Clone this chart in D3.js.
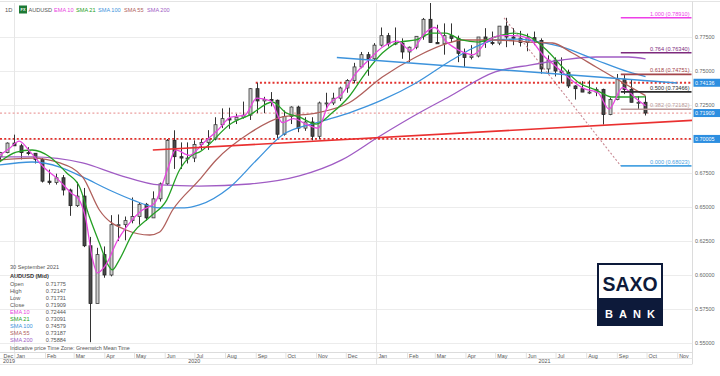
<!DOCTYPE html>
<html><head><meta charset="utf-8">
<script src="https://cdn.jsdelivr.net/npm/d3@7"></script>
<style>
body{margin:0;background:#fff}
svg{display:block;font-family:"Liberation Sans",Arial,sans-serif}
</style>
</head><body>
<svg id="c" width="720" height="376"></svg>
<script>
// ---------- DATA ----------
const weekStart = ["2019-12-16","2019-12-23","2019-12-30",
"2020-01-06","2020-01-13","2020-01-20","2020-01-27","2020-02-03","2020-02-10","2020-02-17","2020-02-24",
"2020-03-02","2020-03-09","2020-03-16","2020-03-23","2020-03-30","2020-04-06","2020-04-13","2020-04-20","2020-04-27",
"2020-05-04","2020-05-11","2020-05-18","2020-05-25","2020-06-01","2020-06-08","2020-06-15","2020-06-22","2020-06-29",
"2020-07-06","2020-07-13","2020-07-20","2020-07-27","2020-08-03","2020-08-10","2020-08-17","2020-08-24","2020-08-31",
"2020-09-07","2020-09-14","2020-09-21","2020-09-28","2020-10-05","2020-10-12","2020-10-19","2020-10-26",
"2020-11-02","2020-11-09","2020-11-16","2020-11-23","2020-11-30","2020-12-07","2020-12-14","2020-12-21","2020-12-28",
"2021-01-04","2021-01-11","2021-01-18","2021-01-25","2021-02-01","2021-02-08","2021-02-15","2021-02-22",
"2021-03-01","2021-03-08","2021-03-15","2021-03-22","2021-03-29","2021-04-05","2021-04-12","2021-04-19","2021-04-26",
"2021-05-03","2021-05-10","2021-05-17","2021-05-24","2021-05-31","2021-06-07","2021-06-14","2021-06-21","2021-06-28",
"2021-07-05","2021-07-12","2021-07-19","2021-07-26","2021-08-02","2021-08-09","2021-08-16","2021-08-23","2021-08-30",
"2021-09-06","2021-09-13","2021-09-20","2021-09-27"];
const openP  = [.6870,.6900,.6970,.6950,.6900,.6895,.6850,.6690,.6680,.6715,.6625,.6510,.6580,.6215,.5790,.6150,.6000,.6370,.6370,.6400,
.6430,.6520,.6420,.6560,.6670,.6990,.6870,.6860,.6860,.6960,.6975,.7000,.7105,.7150,.7140,.7160,.7175,.7370,.7280,.7290,.7285,.7035,
.7165,.7235,.7080,.7125,.7020,.7265,.7265,.7300,.7375,.7430,.7530,.7620,.7590,.7690,.7760,.7700,.7705,.7640,.7675,.7755,.7880,
.7710,.7700,.7760,.7740,.7630,.7600,.7610,.7750,.7710,.7705,.7830,.7750,.7740,.7710,.7745,.7725,.7515,.7580,.7500,.7490,.7390,
.7370,.7345,.7345,.7365,.7180,.7290,.7440,.7365,.7270,.7270];
const highP  = [.6905,.6975,.7032,.6965,.6940,.6895,.6860,.6775,.6745,.6735,.6635,.6685,.6640,.6280,.6200,.6210,.6440,.6445,.6430,.6570,
.6530,.6530,.6615,.6680,.7000,.7064,.6975,.6975,.6990,.7000,.7065,.7160,.7225,.7230,.7185,.7275,.7375,.7413,.7310,.7345,.7290,.7210,
.7240,.7245,.7160,.7160,.7275,.7340,.7340,.7385,.7440,.7560,.7640,.7640,.7705,.7820,.7780,.7820,.7740,.7680,.7755,.7890,.8007,
.7840,.7850,.7850,.7760,.7665,.7690,.7750,.7815,.7790,.7830,.7891,.7815,.7795,.7775,.7790,.7740,.7615,.7600,.7600,.7510,.7395,
.7425,.7430,.7380,.7370,.7305,.7478,.7470,.7440,.7315,.7315];
const lowP   = [.6838,.6895,.6960,.6850,.6880,.6820,.6680,.6665,.6665,.6585,.6435,.6500,.6205,.5506,.5795,.5980,.5990,.6250,.6255,.6380,
.6370,.6400,.6420,.6540,.6660,.6780,.6780,.6820,.6830,.6920,.6920,.6990,.7080,.7075,.7110,.7150,.7140,.7190,.7190,.7240,.7005,.7025,
.7110,.7050,.7060,.6990,.7000,.7220,.7250,.7280,.7340,.7410,.7520,.7465,.7580,.7680,.7680,.7690,.7590,.7565,.7660,.7730,.7710,
.7700,.7620,.7710,.7565,.7530,.7585,.7600,.7670,.7690,.7690,.7675,.7690,.7680,.7645,.7690,.7480,.7475,.7460,.7410,.7375,.7290,
.7345,.7330,.7315,.7106,.7175,.7285,.7330,.7270,.7220,.7173];
const closeP = [.6900,.6970,.6950,.6900,.6895,.6850,.6690,.6680,.6715,.6625,.6510,.6580,.6215,.5790,.6150,.6000,.6370,.6370,.6400,.6430,
.6520,.6420,.6560,.6670,.6990,.6870,.6860,.6860,.6960,.6975,.7000,.7105,.7150,.7140,.7160,.7175,.7370,.7280,.7290,.7285,.7035,.7165,
.7235,.7080,.7125,.7020,.7265,.7265,.7300,.7375,.7430,.7530,.7620,.7590,.7690,.7760,.7700,.7705,.7640,.7675,.7755,.7880,.7710,
.7700,.7760,.7740,.7630,.7600,.7610,.7750,.7710,.7705,.7830,.7750,.7740,.7710,.7745,.7725,.7515,.7580,.7500,.7490,.7390,.7370,
.7345,.7345,.7365,.7180,.7290,.7440,.7365,.7270,.7270,.7191];

const ema10 = [["2019-12-17",.6880],["2019-12-27",.6930],["2020-01-06",.6985],["2020-01-17",.6905],["2020-01-31",.6790],
["2020-02-14",.6705],["2020-02-28",.6600],["2020-03-06",.6560],["2020-03-13",.6420],["2020-03-20",.6120],["2020-03-25",.6015],
["2020-04-03",.6080],["2020-04-14",.6250],["2020-04-24",.6360],["2020-05-08",.6470],["2020-05-22",.6530],["2020-06-05",.6800],
["2020-06-12",.6920],["2020-06-26",.6880],["2020-07-10",.6970],["2020-07-24",.7060],["2020-08-07",.7160],["2020-08-21",.7175],
["2020-09-02",.7300],["2020-09-16",.7280],["2020-09-28",.7120],["2020-10-09",.7150],["2020-10-23",.7105],["2020-11-03",.7080],
["2020-11-13",.7245],["2020-11-27",.7330],["2020-12-11",.7480],["2020-12-24",.7580],["2021-01-08",.7680],["2021-01-22",.7720],
["2021-02-05",.7650],["2021-02-19",.7780],["2021-03-01",.7820],["2021-03-12",.7720],["2021-03-26",.7650],["2021-04-09",.7620],
["2021-04-23",.7720],["2021-05-07",.7760],["2021-05-21",.7760],["2021-06-04",.7740],["2021-06-18",.7620],["2021-07-02",.7530],
["2021-07-16",.7440],["2021-07-30",.7370],["2021-08-13",.7340],["2021-08-24",.7220],["2021-09-07",.7380],["2021-09-20",.7300],
["2021-09-30",.72444]];
const sma21 = [["2019-12-17",.6831],["2020-01-03",.6904],["2020-01-19",.6919],["2020-02-06",.6868],["2020-02-23",.6750],
["2020-03-07",.6647],["2020-03-17",.6426],["2020-03-27",.6235],["2020-04-06",.6059],["2020-04-09",.6037],["2020-04-16",.6110],
["2020-04-30",.6309],["2020-05-17",.6426],["2020-06-03",.6551],["2020-06-16",.6772],["2020-06-29",.6882],["2020-07-06",.6904],
["2020-08-08",.7118],["2020-08-26",.7177],["2020-09-18",.7272],["2020-10-02",.7191],["2020-10-15",.7162],["2020-11-01",.7110],
["2020-11-17",.7191],["2020-12-04",.7309],["2020-12-21",.7485],["2021-01-07",.7632],["2021-01-24",.7713],["2021-02-10",.7728],
["2021-02-26",.7779],["2021-03-12",.7779],["2021-03-28",.7728],["2021-04-14",.7713],["2021-05-01",.7750],["2021-05-19",.7779],
["2021-06-05",.7750],["2021-06-22",.7654],["2021-07-08",.7529],["2021-07-25",.7412],["2021-08-11",.7360],["2021-08-27",.7309],
["2021-09-13",.7309],["2021-09-30",.73091]];
const sma55 = [["2019-12-17",.6846],["2020-01-19",.6860],["2020-02-16",.6824],["2020-03-10",.6721],["2020-03-27",.6478],
["2020-04-23",.6331],["2020-05-17",.6294],["2020-05-27",.6316],["2020-06-09",.6478],["2020-07-06",.6699],["2020-07-23",.6846],
["2020-08-26",.7044],["2020-09-28",.7162],["2020-11-01",.7191],["2020-12-04",.7265],["2021-01-07",.7456],["2021-02-10",.7603],
["2021-03-15",.7706],["2021-03-28",.7728],["2021-05-01",.7728],["2021-06-05",.7713],["2021-06-28",.7706],["2021-07-18",.7632],
["2021-08-11",.7529],["2021-09-06",.7419],["2021-09-30",.73187]];
const sma100 = [["2019-12-17",.6809],["2020-01-19",.6831],["2020-02-16",.6794],["2020-03-10",.6721],["2020-04-06",.6625],
["2020-04-30",.6551],["2020-05-27",.6493],["2020-06-21",.6493],["2020-07-06",.6515],["2020-08-05",.6640],["2020-09-02",.6846],
["2020-09-28",.7029],["2020-11-01",.7118],["2020-12-04",.7191],["2021-01-07",.7287],["2021-02-10",.7412],["2021-03-15",.7566],
["2021-04-09",.7669],["2021-05-01",.7728],["2021-05-26",.7735],["2021-06-15",.7713],["2021-07-08",.7676],["2021-08-11",.7581],
["2021-09-13",.7493],["2021-09-30",.74579]];
const sma200 = [["2019-12-17",.6868],["2020-01-19",.6868],["2020-03-10",.6824],["2020-04-16",.6735],["2020-05-27",.6662],
["2020-07-06",.6654],["2020-08-26",.6669],["2020-10-15",.6728],["2020-11-27",.6846],["2021-01-03",.7015],["2021-02-13",.7191],
["2021-03-15",.7309],["2021-05-01",.7493],["2021-06-05",.7544],["2021-07-08",.7581],["2021-08-11",.7603],["2021-09-13",.7603],
["2021-09-30",.75884]];

const fibLevels = [1.000, 0.764, 0.618, 0.500, 0.382, 0.000];
const fibPrices = [0.78910, 0.76340, 0.74751, 0.73466, 0.72182, 0.68023];
const fibStart = "2021-09-05", fibHigh = ["2021-05-10", 0.78910];

const redTrend  = [["2020-05-20", 0.6919], ["2021-11-16", 0.7137]];
const blueTrend = [["2020-11-22", 0.7599], ["2021-11-01", 0.7412]];
const levelDotted = [{v:0.74136, from:"2020-09-01", strong:true}, {v:0.71909, from:"2019-12-01", strong:false}, {v:0.70005, from:"2019-12-01", strong:true}];

const yTicks = [0.55,0.575,0.6,0.625,0.65,0.675,0.7,0.725,0.75,0.775];
const monthTicks = ["2019-12-01","2020-01-01","2020-02-01","2020-03-01","2020-04-01","2020-05-01","2020-06-01","2020-07-01",
"2020-08-01","2020-09-01","2020-10-01","2020-11-01","2020-12-01","2021-01-01","2021-02-01","2021-03-01","2021-04-01","2021-05-01",
"2021-06-01","2021-07-01","2021-08-01","2021-09-01","2021-10-01","2021-11-01"];
const yearLabels = [["2019","2019-12-01"],["2020","2020-07-01"],["2021","2021-06-20"]];

const legendNames = ["EMA 10","SMA 21","SMA 100","SMA 55","SMA 200"];
const infoLabels = ["Open","High","Low","Close","EMA 10","SMA 21","SMA 100","SMA 55","SMA 200"];
const infoValues = ["0.71775","0.72147","0.71731","0.71909","0.72444","0.73091","0.74579","0.73187","0.75884"];

// ---------- STYLE ----------
const maColors = {"EMA 10":"#e845e0","SMA 21":"#25a025","SMA 100":"#3d93dc","SMA 55":"#b0605c","SMA 200":"#a05cc4"};
const fibColors = ["#ee3fe8","#7d2a7d","#a4454a","#2a2a2a","#bc9a9a","#4aa3e2"];

const P = d3.utcParse("%Y-%m-%d");
const svg = d3.select("#c");
const W = 720, plotR = 692.5, plotT = 3, plotB = 352;

const x = d3.scaleUtc().domain([P("2020-01-01"), P("2021-01-01")]).range([14.3, 14.3 + 366*0.9894]);
const y = d3.scaleLinear().domain([0.55, 0.775]).range([343, 37]);

svg.append("defs").append("clipPath").attr("id","plot")
  .append("rect").attr("x",0).attr("y",plotT).attr("width",plotR).attr("height",plotB-plotT);

// frame lines
svg.append("line").attr("x1",0).attr("x2",W).attr("y1",1.5).attr("y2",1.5).attr("stroke","#e4e4e4");
svg.append("line").attr("x1",plotR).attr("x2",plotR).attr("y1",1.5).attr("y2",364).attr("stroke","#dcdcdc");

const plot = svg.append("g").attr("clip-path","url(#plot)");

// horizontal gridlines
plot.append("g").selectAll("line").data(yTicks).join("line")
  .attr("x1",0).attr("x2",plotR).attr("y1",d=>Math.round(y(d))+0.5).attr("y2",d=>Math.round(y(d))+0.5)
  .attr("stroke","#ececec");
// year gridlines
plot.append("g").selectAll("line").data(["2020-01-01","2021-01-01"]).join("line")
  .attr("x1",d=>Math.round(x(P(d)))+0.5).attr("x2",d=>Math.round(x(P(d)))+0.5).attr("y1",0).attr("y2",plotB)
  .attr("stroke","#e6e6e6");

// dotted horizontal levels
plot.append("g").selectAll("line").data(levelDotted).join("line")
  .attr("x1",d=>Math.max(0,x(P(d.from)))).attr("x2",plotR)
  .attr("y1",d=>y(d.v)).attr("y2",d=>y(d.v))
  .attr("stroke",d=>d.strong?"#e2322e":"#eba0a0")
  .attr("stroke-width",d=>d.strong?1.8:1.3)
  .attr("stroke-dasharray","2,2.2");

// candles
const candles = weekStart.map((d,i)=>({t:d3.utcDay.offset(P(d),2), o:openP[i], h:highP[i], l:lowP[i], c:closeP[i]}));
const cg = plot.append("g");
cg.selectAll("line").data(candles).join("line")
  .attr("x1",d=>Math.round(x(d.t))+0.5).attr("x2",d=>Math.round(x(d.t))+0.5)
  .attr("y1",d=>y(d.h)).attr("y2",d=>y(d.l)).attr("stroke","#333").attr("stroke-width",1);
cg.selectAll("rect").data(candles).join("rect")
  .attr("x",d=>Math.round(x(d.t))-1).attr("width",3)
  .attr("y",d=>y(Math.max(d.o,d.c))).attr("height",d=>Math.max(1,Math.abs(y(d.o)-y(d.c))))
  .attr("fill",d=>d.c>=d.o?"#cfcfcf":"#4a4a4a").attr("stroke",d=>d.c>=d.o?"#3a3a3a":"#222").attr("stroke-width",0.8);

// moving averages
const line = d3.line().x(d=>x(P(d[0]))).y(d=>y(d[1])).curve(d3.curveMonotoneX);
const maData = {"SMA 200":sma200,"SMA 100":sma100,"SMA 55":sma55,"SMA 21":sma21,"EMA 10":ema10};
Object.entries(maData).forEach(([k,v])=>{
  plot.append("path").datum(v).attr("d",line).attr("fill","none")
    .attr("stroke",maColors[k]).attr("stroke-width",1.3);
});

// trend lines
const tl = d3.line().x(d=>x(P(d[0]))).y(d=>y(d[1]));
plot.append("path").datum(blueTrend).attr("d",tl).attr("stroke","#3d93dc").attr("stroke-width",1.5).attr("fill","none");
plot.append("path").datum(redTrend).attr("d",tl).attr("stroke","#ea3030").attr("stroke-width",1.6).attr("fill","none");
// fib diagonal
plot.append("path").datum([fibHigh,[fibStart,fibPrices[5]]]).attr("d",tl)
  .attr("stroke","#c98a94").attr("stroke-width",1.1).attr("stroke-dasharray","2,2").attr("fill","none");

// fib levels
const fg = svg.append("g");
fibLevels.forEach((lv,i)=>{
  const yy = y(fibPrices[i]);
  fg.append("line").attr("x1",x(P(fibStart))).attr("x2",plotR-1).attr("y1",yy).attr("y2",yy)
    .attr("stroke",fibColors[i]).attr("stroke-width",1.6);
  fg.append("text").attr("x",plotR-3).attr("y",yy-2).attr("text-anchor","end")
    .attr("font-size",5.6).attr("fill",fibColors[i])
    .text(lv.toFixed(3)+" ("+fibPrices[i].toFixed(5)+")");
});

// right axis
const ya = svg.append("g").attr("transform",`translate(${plotR+1},0)`)
  .call(d3.axisRight(y).tickValues(yTicks).tickFormat(d3.format(".5f")).tickSize(0).tickPadding(1.5));
ya.select(".domain").remove();
ya.selectAll("text").attr("font-size",5.4).attr("fill","#666").attr("font-family","Liberation Sans, Arial, sans-serif");

// price boxes
const pb = svg.append("g");
[[0.74136,"0.74136"],[0.71909,"0.71909"],[0.70005,"0.70005"]].forEach(([v,t])=>{
  pb.append("rect").attr("x",plotR+1).attr("y",y(v)-4).attr("width",W-plotR).attr("height",8).attr("fill","#2c8ee0");
  pb.append("text").attr("x",plotR+2.5).attr("y",y(v)+2).attr("font-size",5.4).attr("fill","#fff").text(t);
});

// bottom axis
svg.append("line").attr("x1",0).attr("x2",plotR).attr("y1",352.5).attr("y2",352.5).attr("stroke","#dcdcdc");
svg.append("line").attr("x1",0).attr("x2",plotR).attr("y1",358.5).attr("y2",358.5).attr("stroke","#e6e6e6");
svg.append("line").attr("x1",0).attr("x2",plotR).attr("y1",364.5).attr("y2",364.5).attr("stroke","#e6e6e6");
const xa = svg.append("g").attr("transform","translate(0,352.5)")
  .call(d3.axisBottom(x).tickValues(monthTicks.map(P)).tickSize(6).tickFormat(d3.utcFormat("%b")));
xa.select(".domain").remove();
xa.selectAll(".tick line").attr("stroke","#e2e2e2");
xa.selectAll(".tick").filter(d=>x(d)<0).select("line").remove();
xa.selectAll(".tick").filter(d=>x(d)<0).attr("transform","translate(2,0)");
xa.selectAll("text").attr("font-size",5.4).attr("fill","#555").attr("text-anchor","start")
  .attr("dx",1.5).attr("dy",0).attr("y",5.2).attr("font-family","Liberation Sans, Arial, sans-serif");
svg.append("line").attr("x1",Math.round(x(P("2021-01-01")))+0.5).attr("x2",Math.round(x(P("2021-01-01")))+0.5)
  .attr("y1",358).attr("y2",364.5).attr("stroke","#e2e2e2");
svg.append("g").selectAll("text").data(yearLabels).join("text")
  .attr("x",(d,i)=>i===0?3:x(P(d[1]))).attr("y",363).attr("text-anchor",(d,i)=>i===0?"start":"middle")
  .attr("font-size",5.4).attr("fill","#555").text(d=>d[0]);

svg.append("text").attr("x",10).attr("y",350).attr("font-size",5.4).attr("fill","#555")
  .text("Indicative price     Time Zone: Greenwich Mean Time");

// header
svg.append("text").attr("x",5).attr("y",11.5).attr("font-size",5.8).attr("fill","#555").text("1D");
svg.append("rect").attr("x",19).attr("y",5.5).attr("width",8).attr("height",8).attr("fill","#1d7a35");
svg.append("text").attr("x",23).attr("y",11).attr("text-anchor","middle").attr("font-size",3.8).attr("font-weight","bold").attr("fill","#fff").text("FX");
svg.append("text").attr("x",28.5).attr("y",11.5).attr("font-size",5.6).attr("fill","#555").text("AUDUSD");
const legX = [54,76,98,124,147];
svg.append("g").selectAll("text").data(legendNames).join("text")
  .attr("x",(d,i)=>legX[i]).attr("y",11.5).attr("font-size",5.6).attr("fill",d=>maColors[d]).text(d=>d);

// info box
svg.append("text").attr("x",10).attr("y",269).attr("font-size",5.6).attr("fill","#555").text("30 September 2021");
svg.append("text").attr("x",10).attr("y",278).attr("font-size",5.6).attr("font-weight","bold").attr("fill","#333").text("AUDUSD (Mid)");
const infoCol = d => maColors[d] || "#555";
const ig = svg.append("g");
infoLabels.forEach((l,i)=>{
  ig.append("text").attr("x",10).attr("y",286+i*7).attr("font-size",5.6).attr("fill",infoCol(l)).text(l);
  ig.append("text").attr("x",66).attr("y",286+i*7).attr("font-size",5.6).attr("text-anchor","end").attr("fill","#555").text(infoValues[i]);
});

// SAXO BANK logo
const lg = svg.append("g");
lg.append("rect").attr("x",597).attr("y",263).attr("width",66).attr("height",63).attr("fill","#0d1a3a");
lg.append("rect").attr("x",599).attr("y",265).attr("width",62).attr("height",33).attr("fill","#fff");
lg.append("text").attr("x",630).attr("y",291).attr("text-anchor","middle").attr("font-size",21).attr("font-weight","bold")
  .attr("fill","#0d1a3a").attr("textLength",55).attr("lengthAdjust","spacingAndGlyphs").text("SAXO");
lg.append("text").attr("x",633).attr("y",318).attr("text-anchor","middle").attr("font-size",11).attr("font-weight","bold")
  .attr("letter-spacing",6).attr("fill","#fff").text("BANK");
</script>
</body></html>
